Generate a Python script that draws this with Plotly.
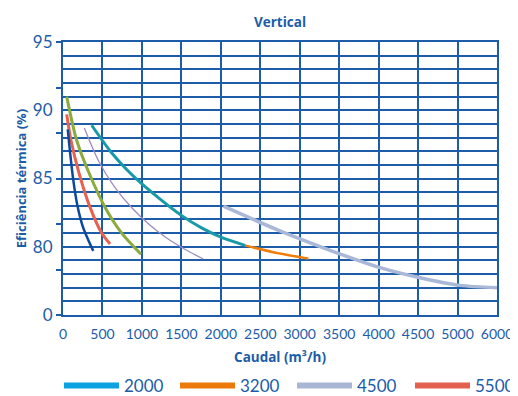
import plotly.graph_objects as go

# ---- data (x in axis units; last tick labelled "6000" as in source) ----
x_darkblue = [60, 90, 130, 180, 250, 320, 384]
y_darkblue = [88.6, 86.9, 84.9, 83.1, 81.5, 80.5, 79.7]

x_red = [47, 101, 203, 342, 490, 596]
y_red = [89.7, 87.8, 85.4, 82.9, 81.0, 80.2]

x_green = [47, 173, 330, 532, 744, 989]
y_green = [91.0, 87.8, 85.4, 82.9, 81.0, 79.45]

x_lav = [270, 450, 650, 880, 1100, 1300, 1550, 1778]
y_lav = [88.7, 86.3, 84.4, 82.8, 81.6, 80.7, 79.8, 79.1]

x_2000 = [363, 600, 800, 1000, 1250, 1500, 1750, 2000, 2307]
y_2000 = [88.9, 87.0, 85.7, 84.6, 83.4, 82.3, 81.4, 80.7, 80.1]

x_3200 = [2307, 2665, 3110]
y_3200 = [80.1, 79.6, 79.13]

x_4500 = [2032, 2750, 3384, 4018, 4525, 5032, 5500]
y_4500 = [82.97, 81.16, 79.74, 78.47, 77.73, 77.17, 77.0]

x_tickvals = [0, 500, 1000, 1500, 2000, 2500, 3000, 3500, 4000, 4500, 5000, 5500]
x_ticktext = ["0", "500", "1000", "1500", "2000", "2500", "3000", "3500",
              "4000", "4500", "5000", "6000"]
y_labelvals = [75, 80, 85, 90, 95]
y_labeltext = ["0", "80", "85", "90", "95"]
y_tickmarks = [75 + i * 20 / 6 for i in range(7)]

legend_names = ["2000", "3200", "4500", "5500"]
legend_colors = ["#0aa3df", "#ec7a08", "#a9b6d3", "#e3604f"]

BLUE = "#1c5ca8"
FONT = "Lato"

# page has an 8px body margin; figure is sized/placed to compensate
W, H = 510, 388

fig = go.Figure()

curves = [
    (x_lav, y_lav, "#9a8cc2", 1.3),
    (x_4500, y_4500, "#aab8d8", 3.5),
    (x_3200, y_3200, "#ee7d0a", 2.5),
    (x_2000, y_2000, "#1799a9", 3),
    (x_green, y_green, "#8aab3d", 3),
    (x_red, y_red, "#e8604f", 3),
    (x_darkblue, y_darkblue, "#0b4a9a", 2.5),
]
for xs, ys, c, w in curves:
    fig.add_trace(go.Scatter(x=xs, y=ys, mode="lines",
                             line=dict(color=c, width=w, shape="spline", smoothing=0.8),
                             showlegend=False, hoverinfo="skip"))

legend_keys = ["legend", "legend2", "legend3", "legend4"]
legend_x = [51, 167, 284, 402]
for i, (n, c) in enumerate(zip(legend_names, legend_colors)):
    fig.add_trace(go.Scatter(x=[None], y=[None], mode="lines", name=n,
                             line=dict(color=c, width=6), legend=legend_keys[i],
                             yaxis="y2" if i % 2 == 0 else "y3"))

legend_layout = {}
for key, lx in zip(legend_keys, legend_x):
    legend_layout[key] = dict(orientation="h", xref="container", yref="container",
                              x=lx / W, xanchor="left", y=1 - 378 / H, yanchor="middle",
                              itemwidth=55, font=dict(size=17, color=BLUE),
                              bgcolor="rgba(0,0,0,0)")

fig.update_layout(
    width=W, height=H,
    margin=dict(l=55, r=21, t=34, b=81, autoexpand=False),
    paper_bgcolor="white", plot_bgcolor="white",
    font=dict(family=FONT, color=BLUE),
    title=dict(text="<b>Vertical</b>", x=(55 + 489) / 2 / W, xanchor="center",
               y=1 - 14 / H, yanchor="middle", yref="container",
               font=dict(size=13.5, color=BLUE, family="Open Sans")),
    xaxis=dict(range=[0, 5500], tickmode="array", tickvals=x_tickvals,
               ticktext=x_ticktext, tickangle=0, showgrid=True, automargin=False,
               gridcolor=BLUE, gridwidth=1.5, zeroline=False,
               showline=True, linecolor=BLUE, linewidth=2, mirror=True,
               ticks="outside", ticklen=5, tickcolor="rgba(0,0,0,0)",
               tickfont=dict(size=14, color=BLUE),
               title=dict(text="<b>Caudal (m³/h)</b>", standoff=12,
                          font=dict(size=13.5, color=BLUE, family="Open Sans"))),
    yaxis=dict(range=[75, 95], tickmode="linear", tick0=75, dtick=1,
               showgrid=True, gridcolor=BLUE, gridwidth=1.5, zeroline=False,
               showticklabels=False, ticks="", automargin=False,
               showline=True, linecolor=BLUE, linewidth=2, mirror=True,
               title=dict(text="<b>Eficiência térmica (%)</b>", standoff=31,
                          font=dict(size=13, color=BLUE, family="Open Sans"))),
    yaxis2=dict(range=[75, 95], overlaying="y", side="left", tickmode="array",
                tickvals=y_tickmarks, ticks="outside", ticklen=6, tickwidth=1.5,
                tickcolor=BLUE, showticklabels=False, showgrid=False,
                zeroline=False, showline=False, automargin=False),
    yaxis3=dict(range=[75, 95], overlaying="y", side="left", tickmode="array",
                tickvals=y_labelvals, ticktext=y_labeltext, ticks="outside",
                ticklen=6, tickcolor="rgba(0,0,0,0)", automargin=False,
                tickfont=dict(size=17, color=BLUE), showgrid=False,
                zeroline=False, showline=False),
    **legend_layout,
)

fig.write_html("out.html")
